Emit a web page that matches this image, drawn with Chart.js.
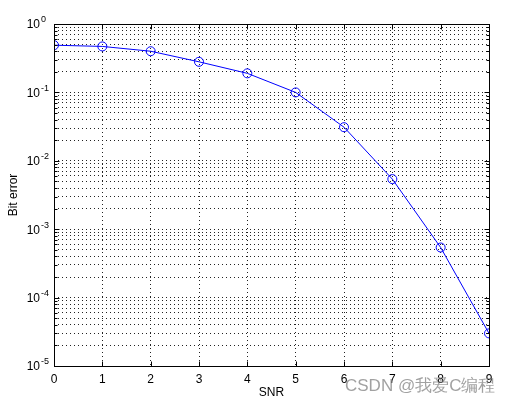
<!DOCTYPE html>
<html>
<head>
<meta charset="utf-8">
<script src="https://cdn.jsdelivr.net/npm/chart.js@4/dist/chart.umd.min.js"></script>
<style>
  html, body { margin: 0; padding: 0; background: #fff; }
  #wrap { width: 519px; height: 402px; }
</style>
</head>
<body>
<div id="wrap"><canvas id="grafico" width="519" height="402"></canvas></div>
<script>
// dados do gráfico
var snr = [0, 1, 2, 3, 4, 5, 6, 7, 8, 9];
var bitError = [0.49, 0.47, 0.40, 0.28, 0.19, 0.10, 0.031, 0.0054, 0.00054, 0.00003];
var expoentes = [0, -1, -2, -3, -4, -5];
var marcaDagua = "CSDN @我爱C编程";

var FONTE = "'Liberation Sans', Arial, sans-serif";

// ticks do eixo log: 1..9 x 10^n
function ticksLog() {
    var t = [];
    for (var e = -5; e < 0; e++) {
        for (var s = 1; s < 10; s++) t.push({ value: s * Math.pow(10, e) });
    }
    t.push({ value: 1 });
    return t;
}

// Plugin para desenhar a caixa, os ticks internos e os rótulos 10^n
var estiloMatlab = {
    id: 'estiloMatlab',
    afterDraw: function (chart) {
        var ctx = chart.ctx;
        var a = chart.chartArea;
        var xs = chart.scales.x, ys = chart.scales.y;
        ctx.save();
        ctx.strokeStyle = '#000';
        ctx.lineWidth = 1;
        ctx.setLineDash([]);
        var L = Math.round(a.left) + 0.5, R = Math.round(a.right) + 0.5;
        var T = Math.round(a.top) + 0.5, B = Math.round(a.bottom) + 0.5;
        ctx.strokeRect(L, T, R - L, B - T);

        ctx.beginPath();
        snr.forEach(function (v) {
            var px = Math.round(xs.getPixelForValue(v)) + 0.5;
            ctx.moveTo(px, B); ctx.lineTo(px, B - 5);
            ctx.moveTo(px, T); ctx.lineTo(px, T + 5);
        });
        ys.ticks.forEach(function (t) {
            var py = Math.round(ys.getPixelForValue(t.value)) + 0.5;
            var maior = Math.abs(Math.log10(t.value) - Math.round(Math.log10(t.value))) < 1e-9;
            var len = maior ? 5 : 3;
            ctx.moveTo(L, py); ctx.lineTo(L + len, py);
            ctx.moveTo(R, py); ctx.lineTo(R - len, py);
        });
        ctx.stroke();

        // rótulos do eixo y com expoente
        ctx.fillStyle = '#000';
        expoentes.forEach(function (e) {
            var py = ys.getPixelForValue(Math.pow(10, e));
            ctx.font = '12px ' + FONTE;
            ctx.textAlign = 'right';
            ctx.textBaseline = 'middle';
            ctx.fillText('10', a.left - 14, py + 1);
            ctx.font = '9px ' + FONTE;
            ctx.textAlign = 'left';
            ctx.fillText(String(e), a.left - 13, py - 4);
        });

        // marca d'água
        ctx.font = '17px ' + FONTE;
        ctx.textAlign = 'left';
        ctx.textBaseline = 'alphabetic';
        ctx.fillStyle = 'rgba(130,130,130,0.75)';
        ctx.fillText(marcaDagua, 345, 391);
        ctx.restore();
    }
};

var ctx = document.getElementById('grafico').getContext('2d');
var grafico = new Chart(ctx, {
    type: 'line',
    data: {
        datasets: [{
            data: snr.map(function (x, i) { return { x: x, y: bitError[i] }; }),
            borderColor: '#0000ff',
            borderWidth: 1,
            pointStyle: 'circle',
            pointRadius: 4.5,
            pointBorderWidth: 1,
            pointBorderColor: '#0000ff',
            pointBackgroundColor: 'rgba(0,0,0,0)',
            tension: 0
        }]
    },
    options: {
        responsive: false,
        animation: false,
        layout: { padding: { top: 24, right: 30, left: 0, bottom: 0 } },
        plugins: { legend: { display: false }, tooltip: { enabled: false } },
        scales: {
            x: {
                type: 'linear',
                min: 0,
                max: 9,
                afterBuildTicks: function (s) { s.ticks = snr.map(function (v) { return { value: v }; }); },
                afterFit: function (s) { s.height = 36; },
                grid: { color: '#222', lineWidth: 1, drawTicks: false },
                border: { display: false, dash: [1, 3] },
                ticks: { color: '#000', padding: 6, font: { size: 12, family: FONTE }, maxRotation: 0 },
                title: { display: true, text: 'SNR', color: '#000', font: { size: 12, family: FONTE }, padding: { top: 0, bottom: 2 } }
            },
            y: {
                type: 'logarithmic',
                min: 1e-5,
                max: 1,
                afterBuildTicks: function (s) { s.ticks = ticksLog(); },
                afterFit: function (s) { s.width = 54; },
                grid: { color: '#222', lineWidth: 1, drawTicks: false },
                border: { display: false, dash: [1, 3] },
                ticks: { display: false },
                title: { display: true, text: 'Bit error', color: '#000', font: { size: 12, family: FONTE }, padding: { top: 6, bottom: 0 } }
            }
        }
    },
    plugins: [estiloMatlab]
});
</script>
</body>
</html>
